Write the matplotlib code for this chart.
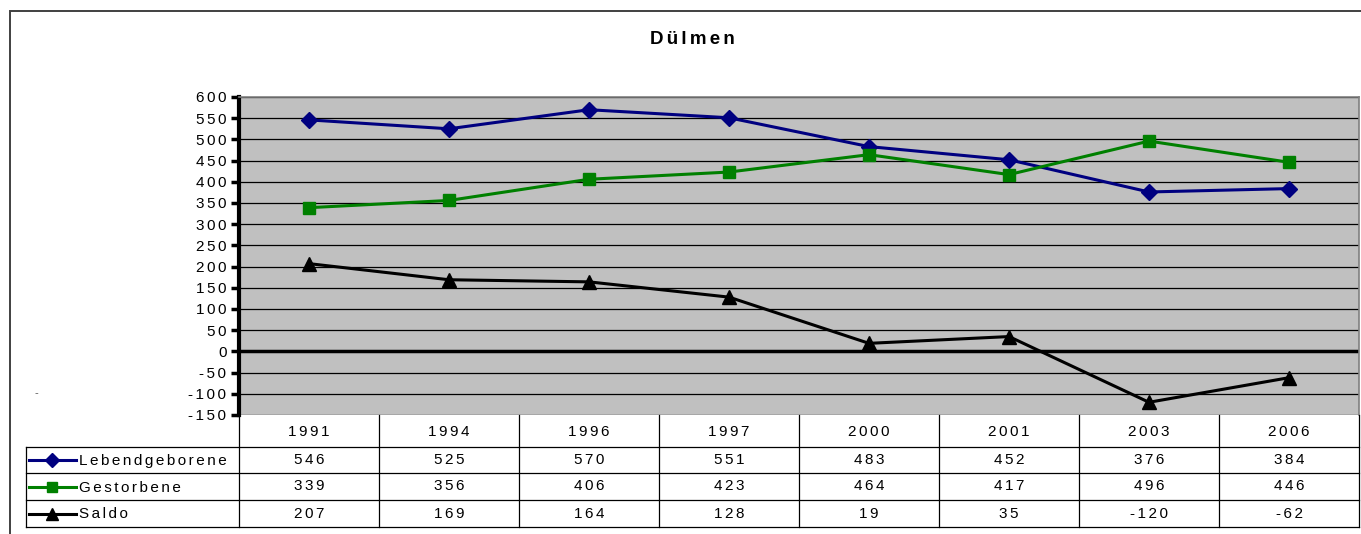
import matplotlib.pyplot as plt
from matplotlib.patches import Rectangle
from matplotlib.lines import Line2D
from matplotlib.ticker import FuncFormatter

plt.rcParams['font.family'] = ['Liberation Sans', 'DejaVu Sans']
plt.rcParams['axes.unicode_minus'] = False

years = ['1991', '1994', '1996', '1997', '2000', '2001', '2003', '2006']
lebend = [546, 525, 570, 551, 483, 452, 376, 384]
gestorben = [339, 356, 406, 423, 464, 417, 496, 446]
saldo = [207, 169, 164, 128, 19, 35, -120, -62]

series = [
    ('Lebendgeborene', lebend, '#000080', 'D', 8),
    ('Gestorbene', gestorben, '#008000', 's', 8.5),
    ('Saldo', saldo, 'black', '^', 9.5),
]

FS = 11


def spaced(s, sep='\u200a\u200a'):
    # the original chart uses wide letter spacing
    return sep.join(str(s))


W, H = 1361, 534
fig = plt.figure(figsize=(W / 100, H / 100), dpi=100)


def fbox(x0, y0, x1, y1):
    # pixel box -> figure fraction [left, bottom, width, height]
    return [x0 / W, 1 - y1 / H, (x1 - x0) / W, (y1 - y0) / H]


# outer frame
fig.patches.append(Rectangle((10 / W, -0.1), 1.2, 1 - 11 / H + 0.1, transform=fig.transFigure,
                             fill=False, edgecolor='#404040', lw=1.4))

fig.text(692 / W, 1 - 40 / H, spaced('Dülmen'), ha='center', va='center',
         fontsize=13.5, fontweight='bold')
fig.text(36 / W, 1 - 393 / H, '-', ha='center', va='center', fontsize=8, color='#555555')

# main plot
ax = fig.add_axes(fbox(239, 97, 1359, 415))
ax.set_facecolor('#c0c0c0')
x = list(range(len(years)))
for name, vals, col, mk, ms in series:
    ax.plot(x, vals, color=col, lw=2.2, marker=mk, ms=ms, zorder=3)
ax.set_xlim(-0.5, len(years) - 0.5)
ax.set_ylim(-150, 600)
ax.set_yticks(range(-150, 601, 50))
ax.yaxis.set_major_formatter(FuncFormatter(lambda v, p: spaced(int(v))))
ax.yaxis.grid(True, color='black', lw=0.9)
ax.set_axisbelow(True)
ax.axhline(0, color='black', lw=2.5, zorder=2)
ax.set_xticks([])
ax.tick_params(axis='y', direction='out', length=6, width=2.5, labelsize=FS, pad=3)
ax.spines['left'].set_linewidth(3)
for s in ('top', 'right'):
    ax.spines[s].set_color('#808080')
    ax.spines[s].set_linewidth(1.2)
ax.spines['bottom'].set_visible(False)

# data table below the plot
tx0, tx1, ty0, ty1 = 26, 1359, 415, 527
tab = fig.add_axes(fbox(tx0, ty0, tx1, ty1))
tab.set_xlim(tx0, tx1)
tab.set_ylim(ty1, ty0)
tab.axis('off')
col0 = 239
cw = (tx1 - col0) / len(years)
rows = [415, 447, 473, 500, 527]
for y in rows[1:]:
    tab.plot([tx0, tx1], [y, y], color='black', lw=0.9, clip_on=False)
tab.plot([tx0, tx0], [rows[1], rows[-1]], color='black', lw=0.9, clip_on=False)
for k in range(len(years) + 1):
    tab.plot([col0 + k * cw] * 2, [rows[0], rows[-1]], color='black', lw=0.9, clip_on=False)
for k, yr in enumerate(years):
    tab.text(col0 + (k + 0.5) * cw, (rows[0] + rows[1]) / 2 + 1, spaced(yr),
             ha='center', va='center', fontsize=FS)
for r, (name, vals, col, mk, ms) in enumerate(series):
    yc = (rows[r + 1] + rows[r + 2]) / 2
    tab.add_line(Line2D([29, 76], [yc, yc], color=col, lw=2.2))
    tab.plot([52], [yc], marker=mk, color=col, ms=ms * 0.9)
    tab.text(79, yc + 1, spaced(name), ha='left', va='center', fontsize=FS)
    for k, v in enumerate(vals):
        tab.text(col0 + (k + 0.5) * cw, yc, spaced(v), ha='center', va='center', fontsize=FS)

fig.savefig('out.png', dpi=100)
